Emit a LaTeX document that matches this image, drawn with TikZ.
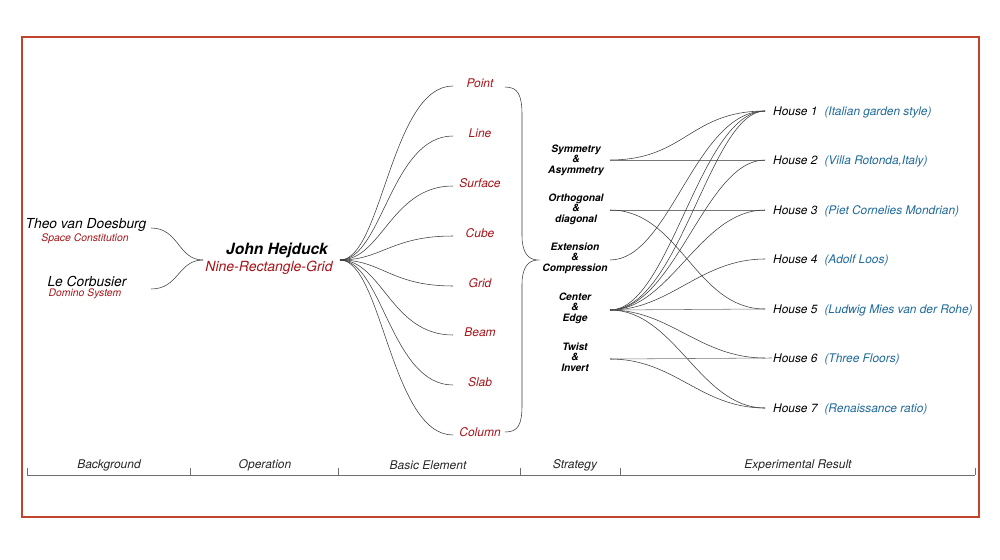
\documentclass[tikz,border=0pt]{standalone}
\usepackage{fontspec}
\setmainfont{TeX Gyre Heros}
\definecolor{framec}{RGB}{192,68,44}
\definecolor{dred}{RGB}{165,20,25}
\definecolor{hblue}{RGB}{30,105,155}
\definecolor{wirec}{RGB}{60,60,60}
\definecolor{axisc}{RGB}{110,110,110}
\begin{document}
\begin{tikzpicture}[x=1pt,y=-1pt,
  every node/.style={inner sep=1pt},
  wire/.style={draw=wirec, line width=0.55pt},
  person/.style={font=\fontsize{13.8}{15}\selectfont\itshape},
  sub/.style={text=dred, font=\fontsize{10.4}{12}\selectfont\itshape},
  elem/.style={text=dred, font=\fontsize{12}{14}\selectfont\itshape},
  strat/.style={align=center, font=\fontsize{10.2}{10.5}\selectfont\bfseries\itshape},
  house/.style={anchor=west, font=\fontsize{11.9}{14}\selectfont\itshape},
  axlabel/.style={text=black!85, font=\fontsize{12}{14}\selectfont\itshape},
  axisline/.style={draw=axisc, line width=0.6pt}]
\useasboundingbox (0,0) rectangle (1000,559);
\draw[framec, line width=2.2pt] (22,37) rectangle (979,517);

% background
\node[person] (theo) at (86,225) {Theo van Doesburg};
\node[sub] (theosub) at (85,239) {Space Constitution};
\node[person] (lec) at (87,281) {Le Corbusier};
\node[sub] (lecsub) at (85,294) {Domino System};
\coordinate (tR) at (151,228);
\coordinate (lR) at (151,289);

% operation
\node[font=\fontsize{15.5}{17}\selectfont\bfseries\itshape] (hej) at (277,250) {John Hejduck};
\node[text=dred, font=\fontsize{14}{16}\selectfont\itshape] (nine) at (269,268) {Nine-Rectangle-Grid};
\coordinate (hjL) at (203,260);
\coordinate (hjR) at (340,260);

\draw[wire] (tR) .. controls +(28,0) and +(-25,0) .. (hjL);
\draw[wire] (lR) .. controls +(28,0) and +(-25,0) .. (hjL);

% basic elements
\foreach \n/\t/\y in {e1/Point/83,e2/Line/133,e3/Surface/183,e4/Cube/233,e5/Grid/283,e6/Beam/332,e7/Slab/382,e8/Column/432}{
  \node[elem] (\n) at (480,\y) {\t};
  \coordinate (\n L) at (453,\y+3);
  \draw[wire] (hjR) .. controls +(42,0) and +(-62,0) .. (\n L);
}

% brace
\draw[wire] (505,87) .. controls (518,87) and (522,95) .. (522,115) -- (522,236)
  .. controls (522,252) and (528,260) .. (538,260)
  .. controls (528,260) and (522,268) .. (522,284) -- (522,405)
  .. controls (522,425) and (518,432) .. (505,432);

% strategies
\node[strat] (s1t) at (576,160) {Symmetry\\\&\\Asymmetry};
\node[strat] (s2t) at (576,209) {Orthogonal\\\&\\diagonal};
\node[strat] (s3t) at (575,258) {Extension\\\&\\Compression};
\node[strat] (s4t) at (575,308) {Center\\\&\\Edge};
\node[strat] (s5t) at (575,357) {Twist\\\&\\Invert};
\coordinate (s1) at (610,160);
\coordinate (s2) at (610,210);
\coordinate (s3) at (610,260);
\coordinate (s4) at (610,310);
\coordinate (s5) at (610,359);

% houses
\foreach \i/\y/\d in {1/111/Italian garden style,2/160/{Villa Rotonda,Italy},3/210/Piet Cornelies Mondrian,4/259/Adolf Loos,5/309/Ludwig Mies van der Rohe,6/358/Three Floors,7/408/Renaissance ratio}{
  \node[house] (H\i) at (772,\y+1) {House \i\hspace{7pt}\textcolor{hblue}{(\d)}};
  \coordinate (h\i) at (765,\y);
}

% strategy -> house connectors
\draw[wire] (s1) .. controls +(75,0) and +(-75,0) .. (h1);
\draw[wire, draw=wirec!70] (s1) -- (h2);
\draw[wire, draw=wirec!70] (s2) -- (h3);
\draw[wire] (s2) .. controls +(70,0) and +(-70,0) .. (h5);
\draw[wire] (s3) .. controls +(60,0) and +(-70,0) .. (h1);
\draw[wire] (s4) .. controls +(60,0) and +(-65,0) .. (h1);
\draw[wire] (s4) .. controls +(70,0) and +(-55,0) .. (h1);
\draw[wire] (s4) .. controls +(65,0) and +(-60,0) .. (h2);
\draw[wire] (s4) .. controls +(60,0) and +(-65,0) .. (h3);
\draw[wire] (s4) .. controls +(60,0) and +(-65,0) .. (h4);
\draw[wire, draw=wirec!70] (s4) -- (h5);
\draw[wire] (s4) .. controls +(60,0) and +(-65,0) .. (h6);
\draw[wire] (s4) .. controls +(65,0) and +(-65,0) .. (h7);
\draw[wire, draw=wirec!70] (s5) -- (772,358);
\draw[wire] (s5) .. controls +(65,0) and +(-65,0) .. (h7);

% axis
\coordinate (a0) at (27,475);
\coordinate (a5) at (975,475);
\draw[axisline] (a0) -- (a5);
\foreach \x in {27,190,338,520,620,975}{
  \draw[axisline] (\x,468) -- (\x,475);
}
\node[axlabel] (l1) at (109,465) {Background};
\node[axlabel] (l2) at (265,465) {Operation};
\node[axlabel] (l3) at (428,465) {Basic Element};
\node[axlabel] (l4) at (575,465) {Strategy};
\node[axlabel] (l5) at (798,465) {Experimental Result};
\end{tikzpicture}
\end{document}
